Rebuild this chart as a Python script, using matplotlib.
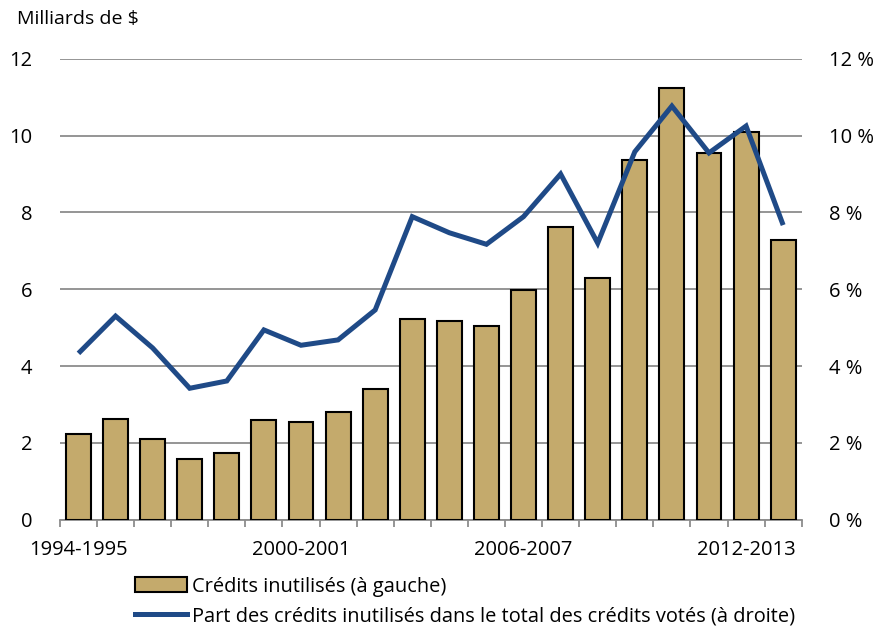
import numpy as np
import matplotlib.pyplot as plt
from matplotlib.patches import Patch
from matplotlib.lines import Line2D

plt.rcParams['font.family'] = ['Open Sans', 'DejaVu Sans']

years = ["1994-1995", "1995-1996", "1996-1997", "1997-1998", "1998-1999",
         "1999-2000", "2000-2001", "2001-2002", "2002-2003", "2003-2004",
         "2004-2005", "2005-2006", "2006-2007", "2007-2008", "2008-2009",
         "2009-2010", "2010-2011", "2011-2012", "2012-2013", "2013-2014"]
# unused appropriations, billions of dollars
unused = [2.23, 2.63, 2.10, 1.58, 1.74, 2.59, 2.54, 2.81, 3.39, 5.23,
          5.18, 5.03, 5.98, 7.61, 6.29, 9.36, 11.24, 9.55, 10.10, 7.28]
# share of total voted appropriations, percent
share = [4.33, 5.30, 4.47, 3.42, 3.61, 4.94, 4.54, 4.68, 5.46, 7.89,
         7.47, 7.17, 7.89, 9.00, 7.20, 9.58, 10.77, 9.55, 10.25, 7.67]
shown_years = ["1994-1995", "2000-2001", "2006-2007", "2012-2013"]

bar_color = "#C4AA6C"
line_color = "#1F4A87"
grid_color = "#8C8C8C"

fig = plt.figure(figsize=(8.81, 6.26), dpi=100)
ax = fig.add_axes([0.068, 0.170, 0.842, 0.736])
ax2 = ax.twinx()

x = np.arange(len(years))
ax.bar(x, unused, width=0.67, color=bar_color, edgecolor="black",
       linewidth=1.5, zorder=3)
ax2.plot(x, share, color=line_color, linewidth=3.6, solid_joinstyle="miter",
         solid_capstyle="butt", zorder=4)

ax.set_xlim(-0.5, len(years) - 0.5)
ax.set_ylim(0, 12)
ax2.set_ylim(0, 12)
ax.set_yticks(range(0, 13, 2))
ax2.set_yticks(range(0, 13, 2))
ax2.set_yticklabels([f"{v} %" for v in range(0, 13, 2)])

for a in (ax, ax2):
    for s in ("left", "right", "top"):
        a.spines[s].set_visible(False)
    a.spines["bottom"].set_color(grid_color)
    a.spines["bottom"].set_linewidth(1.3)
    a.tick_params(axis="y", length=0, labelsize=14.5, pad=20)
ax2.spines["bottom"].set_visible(False)

ax.yaxis.grid(True, color=grid_color, linewidth=1.3, zorder=0)
ax.set_axisbelow(True)

ax.set_xticks([years.index(y) for y in shown_years])
ax.set_xticklabels(shown_years)
ax.set_xticks(np.arange(-0.5, len(years), 1), minor=True)
ax.tick_params(axis="x", which="major", length=0, labelsize=14.5, pad=15)
ax.tick_params(axis="x", which="minor", length=5, width=1.3, color=grid_color)

fig.text(0.019, 0.955, "Milliards de $", fontsize=14, ha="left", va="bottom")

handles = [Patch(facecolor=bar_color, edgecolor="black", linewidth=1.5),
           Line2D([], [], color=line_color, linewidth=3.6)]
labels = ["Crédits inutilisés (à gauche)",
          "Part des crédits inutilisés dans le total des crédits votés (à droite)"]
fig.legend(handles, labels, loc="upper left", bbox_to_anchor=(0.153, 0.079),
           frameon=False, fontsize=14.4, handlelength=2.6, handleheight=0.75,
           handletextpad=0.25, labelspacing=0.5, borderpad=0,
           borderaxespad=0)

fig.savefig("out.png", dpi=100)
